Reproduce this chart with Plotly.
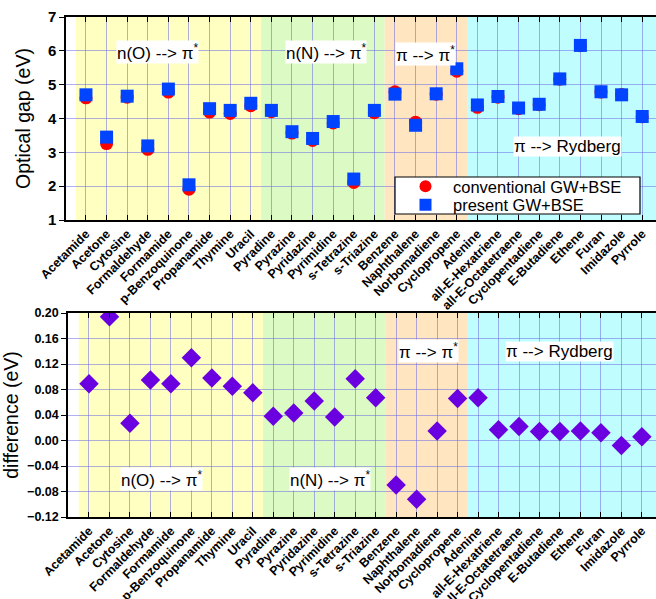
import plotly.graph_objects as go

molecules = ["Acetamide", "Acetone", "Cytosine", "Formaldehyde", "Formamide", "p-Benzoquinone",
             "Propanamide", "Thymine", "Uracil", "Pyradine", "Pyrazine", "Pyridazine", "Pyrimidine",
             "s-Tetrazine", "s-Triazine", "Benzene", "Naphthalene", "Norbomadiene", "Cyclopropene",
             "Adenine", "all-E-Hexatriene", "all-E-Octatetraene", "Cyclopentadiene", "E-Butadiene",
             "Ethene", "Furan", "Imidazole", "Pyrrole"]

present = [4.70, 3.45, 4.66, 3.19, 4.87, 2.04, 4.29, 4.24, 4.45, 4.24, 3.61, 3.41, 3.91, 2.21,
           4.24, 4.72, 3.80, 4.73, 5.47, 4.40, 4.65, 4.31, 4.42, 5.17, 6.16, 4.79, 4.70, 4.06]
conventional = [4.61, 3.26, 4.63, 3.09, 4.78, 1.91, 4.19, 4.15, 4.38, 4.20, 3.57, 3.35, 3.87, 2.11,
                4.17, 4.79, 3.89, 4.72, 5.40, 4.33, 4.63, 4.29, 4.41, 5.16, 6.15, 4.78, 4.71, 4.05]
difference = [0.089, 0.194, 0.027, 0.095, 0.089, 0.130, 0.098, 0.085, 0.075, 0.038, 0.043, 0.062,
              0.037, 0.097, 0.067, -0.070, -0.092, 0.015, 0.066, 0.067, 0.017, 0.022, 0.014, 0.014,
              0.015, 0.012, -0.008, 0.006]

groups = [(-0.5, 8.5, "#ffffc2"), (8.5, 14.5, "#dcfbc4"), (14.5, 18.5, "#ffe5c0"), (18.5, 28.5, "#c0fdff")]

W, H = 656, 599
idx = list(range(len(molecules)))

fig = go.Figure()
fig.add_trace(go.Scatter(x=idx, y=conventional, mode="markers", name="conventional GW+BSE",
                         marker=dict(symbol="circle", size=13, color="#ff0000"), xaxis="x", yaxis="y",
                         legend="legend"))
fig.add_trace(go.Scatter(x=idx, y=present, mode="markers", name="present GW+BSE",
                         marker=dict(symbol="square", size=13, color="#0044ff"), xaxis="x", yaxis="y",
                         legend="legend2"))
fig.add_trace(go.Scatter(x=idx, y=difference, mode="markers", showlegend=False,
                         marker=dict(symbol="diamond", size=15, color="#6a00e0"), xaxis="x2", yaxis="y2"))

shapes = []
for xa, ya in (("x", "y"), ("x2", "y2")):
    for x0, x1, c in groups:
        shapes.append(dict(type="rect", xref=xa, yref=ya + " domain", x0=x0, x1=x1, y0=0, y1=1,
                           fillcolor=c, line=dict(width=0), layer="below"))
# legend frame
shapes.append(dict(type="rect", xref="paper", yref="paper", x0=395 / W, x1=640 / W,
                   y0=1 - 214 / H, y1=1 - 177 / H, fillcolor="white",
                   line=dict(color="black", width=1.2), layer="above"))

grid = "rgba(110,110,230,0.55)"
tickfont_cat = dict(family="Liberation Sans", size=12.5, color="black", weight="bold")

xcommon = dict(tickmode="array", tickvals=idx, ticktext=molecules, tickangle=-45,
               ticks="inside", ticklen=5, tickcolor="black", showline=True, linecolor="black",
               linewidth=1.5, mirror="ticks", showgrid=True, gridcolor=grid, gridwidth=1,
               zeroline=False, tickfont=tickfont_cat, automargin=False)

leg_common = dict(xanchor="left", yanchor="middle", bgcolor="rgba(0,0,0,0)", borderwidth=0,
                  font=dict(family="Liberation Sans", size=16.5, color="black"),
                  itemsizing="constant", itemwidth=45)

fig.update_layout(
    width=W, height=H, margin=dict(l=0, r=0, t=0, b=0),
    paper_bgcolor="white", plot_bgcolor="white",
    font=dict(family="Liberation Sans", color="black"),
    xaxis=dict(domain=[66 / W, 1], range=[-0.97, 27.67], anchor="y", **xcommon),
    yaxis=dict(domain=[1 - 220 / H, 1 - 17 / H], range=[1, 7], dtick=1, anchor="x",
               ticks="outside", ticklen=5, tickcolor="black", showline=True, linecolor="black",
               linewidth=1.5, mirror=True, showgrid=True, gridcolor=grid, zeroline=False,
               automargin=False,
               tickfont=dict(family="Liberation Sans", size=15, color="black", weight="bold"),
               title=dict(text="Optical gap (eV)", font=dict(family="Liberation Sans", size=19.5),
                          standoff=12)),
    xaxis2=dict(domain=[68 / W, 1], range=[-1.025, 27.69], anchor="y2", **xcommon),
    yaxis2=dict(domain=[1 - 517 / H, 1 - 313 / H], range=[-0.12, 0.20], dtick=0.04, tickformat=".2f",
                anchor="x2", ticks="outside", ticklen=5, tickcolor="black", showline=True,
                linecolor="black", linewidth=1.5, mirror=True, showgrid=True, gridcolor=grid,
                zeroline=False, automargin=False,
                tickfont=dict(family="Liberation Sans", size=12.5, color="black", weight="bold"),
                title=dict(text="difference (eV)", font=dict(family="Liberation Sans", size=19.5),
                           standoff=8)),
    shapes=shapes,
    legend=dict(x=398 / W, y=1 - 186.5 / H, **leg_common),
    legend2=dict(x=398 / W, y=1 - 205 / H, **leg_common),
)

ann_font = dict(family="Liberation Sans", size=17, color="black")
labels = [
    ("x", "y", 3.45, 5.97, "n(O) --> π<sup>*</sup>"),
    ("x", "y", 11.65, 5.97, "n(N) --> π<sup>*</sup>"),
    ("x", "y", 16.5, 5.9, "π --> π<sup>*</sup>"),
    ("x", "y", 23.35, 3.17, "π --> Rydberg"),
    ("x2", "y2", 3.56, -0.060, "n(O) --> π<sup>*</sup>"),
    ("x2", "y2", 11.75, -0.060, "n(N) --> π<sup>*</sup>"),
    ("x2", "y2", 16.6, 0.140, "π --> π<sup>*</sup>"),
    ("x2", "y2", 23.0, 0.140, "π --> Rydberg"),
]
for xr, yr, x, y, t in labels:
    fig.add_annotation(xref=xr, yref=yr, x=x, y=y, text=t, showarrow=False, font=ann_font,
                       bgcolor="white", borderpad=0)

fig.write_html("out.html")
